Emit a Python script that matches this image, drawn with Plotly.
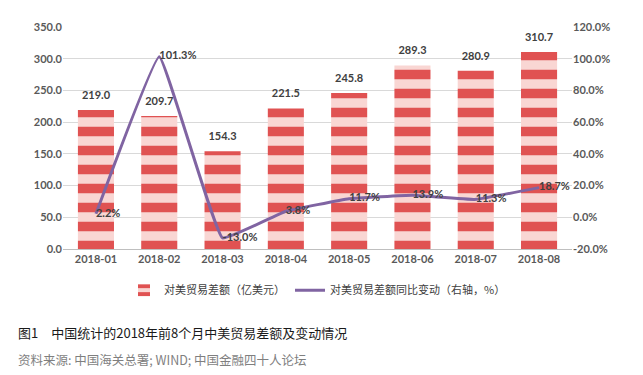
import plotly.graph_objects as go

months = ["2018-01", "2018-02", "2018-03", "2018-04", "2018-05", "2018-06", "2018-07", "2018-08"]
surplus = [219.0, 209.7, 154.3, 221.5, 245.8, 289.3, 280.9, 310.7]
yoy = [2.2, 101.3, -13.0, 3.8, 11.7, 13.9, 11.3, 18.7]

bar_name = "对美贸易差额（亿美元）"
line_name = "对美贸易差额同比变动（右轴，%）"
left_ticks = [0, 50, 100, 150, 200, 250, 300, 350]
right_ticks = [-20, 0, 20, 40, 60, 80, 100, 120]

tick_font = dict(family="Lato, 'Noto Sans CJK SC', sans-serif", size=11, color="#595959", weight="bold")

fig = go.Figure()
fig.add_trace(go.Bar(
    x=months, y=surplus, name=bar_name,
    marker=dict(
        color="#f9d6d3",
        line=dict(width=0),
        pattern=dict(shape="-", fgcolor="#e05252", bgcolor="#f9d6d3", size=19, solidity=0.5,
                     fillmode="replace", fgopacity=1),
    ),
    cliponaxis=False,
))
# bar value labels (invisible markers give extra offset above bar tops)
fig.add_trace(go.Scatter(
    x=months, y=surplus, mode="markers+text", showlegend=False, hoverinfo="skip",
    marker=dict(size=12, color="rgba(0,0,0,0)"),
    text=[f"{v:.1f}" for v in surplus], textposition="top center",
    textfont=dict(family="Lato, sans-serif", size=11, color="#404040", weight="bold"),
    cliponaxis=False,
))
fig.add_trace(go.Scatter(
    x=months, y=yoy, name=line_name, yaxis="y2", mode="lines+text",
    line=dict(color="#8064a2", width=3, shape="spline", smoothing=0.25),
    text=[f"{v:.1f}%" for v in yoy], textposition="middle right",
    textfont=dict(family="Lato, sans-serif", size=11, color="#404040", weight="bold"),
    cliponaxis=False,
))

fig.update_layout(
    width=635, height=367,
    margin=dict(l=55, r=71, t=17, b=126),
    paper_bgcolor="white", plot_bgcolor="white",
    bargap=0.43,
    showlegend=True,
    legend=dict(orientation="h", x=0.5, xanchor="center", y=-0.12, yanchor="top",
                font=dict(family="'Noto Sans CJK SC', sans-serif", size=11, color="#404040"),
                itemwidth=30, traceorder="normal"),
    xaxis=dict(type="category", showgrid=False, showline=True, linecolor="#bfbfbf", linewidth=1,
               tickfont=tick_font, ticks=""),
    yaxis=dict(range=[0, 350], tickvals=left_ticks, ticktext=[f"{v:.1f}" for v in left_ticks],
               showgrid=True, gridcolor="#d9d9d9", gridwidth=1, zeroline=False,
               tickfont=tick_font, ticks=""),
    yaxis2=dict(range=[-20, 120], tickvals=right_ticks, ticktext=[f"{v:.1f}%" for v in right_ticks],
                overlaying="y", side="right", showgrid=False, zeroline=False,
                tickfont=tick_font, ticks=""),
    annotations=[
        dict(text="图1　中国统计的2018年前8个月中美贸易差额及变动情况", xref="paper", yref="paper",
             x=-0.092, y=-0.375, xanchor="left", yanchor="middle", showarrow=False,
             font=dict(family="'Noto Sans CJK SC', sans-serif", size=13, color="#1a1a1a")),
        dict(text="资料来源: 中国海关总署; WIND; 中国金融四十人论坛", xref="paper", yref="paper",
             x=-0.092, y=-0.496, xanchor="left", yanchor="middle", showarrow=False,
             font=dict(family="'Noto Sans CJK SC', sans-serif", size=12.5, color="#7f7f7f")),
    ],
)

fig.write_html("out.html")
